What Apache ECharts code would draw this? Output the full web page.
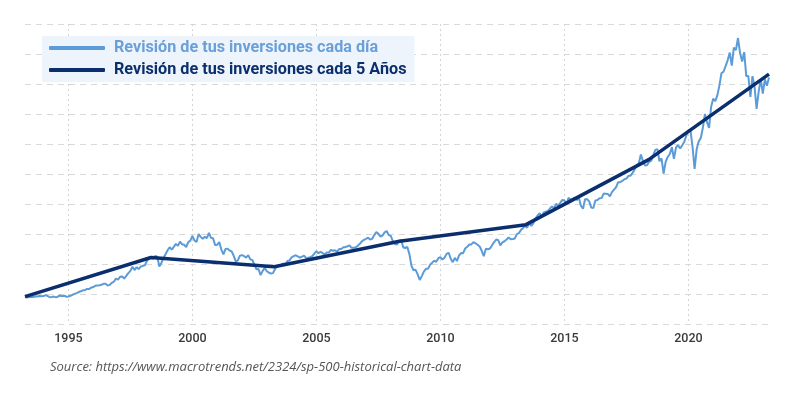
<!DOCTYPE html>
<html>
<head>
<meta charset="utf-8">
<title>S&P 500 - revisión de inversiones</title>
<script src="https://cdn.jsdelivr.net/npm/echarts@6/dist/echarts.min.js"></script>
<style>
  html, body { margin: 0; padding: 0; background: #fff; }
  #chart { width: 800px; height: 401px; }
</style>
</head>
<body>
<div id="chart"></div>
<script>
// month-end values, first one is March 1993 (x = year + month/12)
const startYear = 1993;
const startMonth = 3;
const dailyValues = [
  452, 440, 450, 451, 448, 464, 459, 468, 462, 466,
  482, 467, 446, 451, 457, 444, 458, 475, 463, 472, 454, 459,
  470, 487, 501, 515, 533, 545, 562, 562, 584, 582, 605, 616,
  636, 641, 646, 654, 669, 671, 640, 652, 687, 705, 757, 741,
  786, 791, 757, 801, 848, 885, 954, 899, 947, 915, 955, 970,
  980, 1049, 1102, 1112, 1091, 1134, 1121, 957, 1017, 1099, 1164, 1229,
  1280, 1238, 1286, 1335, 1302, 1373, 1329, 1320, 1283, 1363, 1389, 1469,
  1394, 1366, 1499, 1452, 1421, 1455, 1431, 1518, 1437, 1429, 1315, 1320,
  1366, 1240, 1160, 1249, 1256, 1224, 1211, 1134, 1041, 1060, 1139, 1148,
  1130, 1107, 1147, 1077, 1067, 990, 912, 916, 815, 886, 936, 880,
  856, 841, 848, 917, 964, 975, 990, 1008, 996, 1051, 1058, 1112,
  1131, 1145, 1126, 1107, 1121, 1141, 1102, 1104, 1115, 1130, 1174, 1212,
  1181, 1204, 1181, 1157, 1192, 1191, 1234, 1220, 1229, 1207, 1249, 1248,
  1280, 1281, 1295, 1311, 1270, 1270, 1277, 1304, 1336, 1378, 1401, 1418,
  1438, 1407, 1421, 1482, 1531, 1503, 1455, 1474, 1527, 1549, 1481, 1468,
  1379, 1331, 1323, 1386, 1400, 1280, 1267, 1283, 1165, 969, 896, 903,
  826, 735, 798, 873, 919, 919, 987, 1021, 1057, 1036, 1096, 1115,
  1074, 1104, 1169, 1187, 1089, 1031, 1102, 1049, 1141, 1183, 1181, 1258,
  1286, 1327, 1326, 1364, 1345, 1321, 1292, 1219, 1131, 1253, 1247, 1258,
  1312, 1366, 1408, 1398, 1310, 1362, 1379, 1407, 1441, 1412, 1416, 1426,
  1498, 1515, 1569, 1598, 1631, 1606, 1686, 1633, 1682, 1757, 1806, 1848,
  1783, 1859, 1872, 1884, 1924, 1960, 1931, 2003, 1972, 2018, 2068, 2059,
  1995, 2105, 2068, 2086, 2107, 2063, 2104, 1972, 1920, 2079, 2080, 2044,
  1940, 1932, 2060, 2065, 2097, 2099, 2174, 2171, 2168, 2126, 2199, 2239,
  2279, 2364, 2363, 2384, 2412, 2423, 2470, 2472, 2519, 2575, 2648, 2674,
  2824, 2714, 2641, 2648, 2705, 2718, 2816, 2902, 2914, 2712, 2760, 2507,
  2704, 2784, 2834, 2946, 2752, 2942, 2980, 2926, 2977, 3038, 3141, 3231,
  3226, 2954, 2585, 2912, 3044, 3100, 3271, 3500, 3363, 3270, 3622, 3756,
  3714, 3811, 3973, 4181, 4204, 4298, 4395, 4523, 4308, 4605, 4567, 4766,
  4516, 4374, 4530, 4132, 4132, 3785, 4130, 3955, 3586, 3872, 4080, 3840,
  4077, 3970, 4109
];

// revisiones cada 5 años
const fiveYearDates = [1993.25, 1998.33, 2003.3, 2008.35, 2013.45, 2018.4, 2023.25];
const fiveYearValues = [455, 1109, 955, 1380, 1656, 2740, 4165];

const yearTicks = [1995, 2000, 2005, 2010, 2015, 2020];

const nameDaily = 'Revisión de tus inversiones cada día';
const nameFive = 'Revisión de tus inversiones cada 5 Años';
const colorDaily = '#5b9bd8';
const colorFive = '#0b2f6e';

const dailyData = dailyValues.map((v, i) => [startYear + (startMonth + i) / 12, v]);
const fiveData = fiveYearDates.map((d, i) => [d, fiveYearValues[i]]);

const chart = echarts.init(document.getElementById('chart'));
chart.setOption({
  animation: false,
  grid: { left: 25, right: 31, top: 24, bottom: 77 },
  legend: {
    left: 42,
    top: 36,
    orient: 'vertical',
    backgroundColor: '#eef4fc',
    padding: [4, 8, 4, 7],
    itemGap: 6,
    itemWidth: 56,
    itemHeight: 4,
    icon: 'roundRect',
    textStyle: { fontFamily: 'Roboto', fontSize: 16.2, fontWeight: 'bold', padding: [0, 0, 0, 4] },
    data: [
      { name: nameDaily, textStyle: { color: '#6a9fd8' } },
      { name: nameFive, textStyle: { color: colorFive } }
    ]
  },
  xAxis: {
    type: 'value',
    min: 1993.25,
    max: 2023.25,
    axisLine: { show: false },
    axisTick: { show: false, customValues: yearTicks },
    axisLabel: {
      customValues: yearTicks,
      formatter: v => String(v),
      color: '#3a3a3a',
      fontFamily: 'Roboto',
      fontSize: 12.5,
      fontWeight: 500,
      margin: 8
    },
    splitLine: { show: true, lineStyle: { color: '#d4d4d4', type: [2, 3], width: 1 } }
  },
  yAxis: {
    type: 'value',
    min: 0,
    max: 5000,
    interval: 500,
    axisLabel: { show: false },
    axisLine: { show: false },
    axisTick: { show: false },
    splitLine: { lineStyle: { color: '#d9d9d9', type: [6, 5], width: 1 } }
  },
  series: [
    {
      name: nameDaily,
      type: 'line',
      data: dailyData,
      showSymbol: false,
      lineStyle: { color: colorDaily, width: 2 },
      itemStyle: { color: colorDaily }
    },
    {
      name: nameFive,
      type: 'line',
      data: fiveData,
      showSymbol: false,
      lineStyle: { color: colorFive, width: 3.5 },
      itemStyle: { color: colorFive }
    }
  ],
  graphic: [
    {
      type: 'text',
      left: 50,
      top: 361,
      style: {
        text: 'Source: https://www.macrotrends.net/2324/sp-500-historical-chart-data',
        font: 'italic 13px "Open Sans"',
        fill: '#555'
      }
    }
  ]
});
</script>
</body>
</html>
